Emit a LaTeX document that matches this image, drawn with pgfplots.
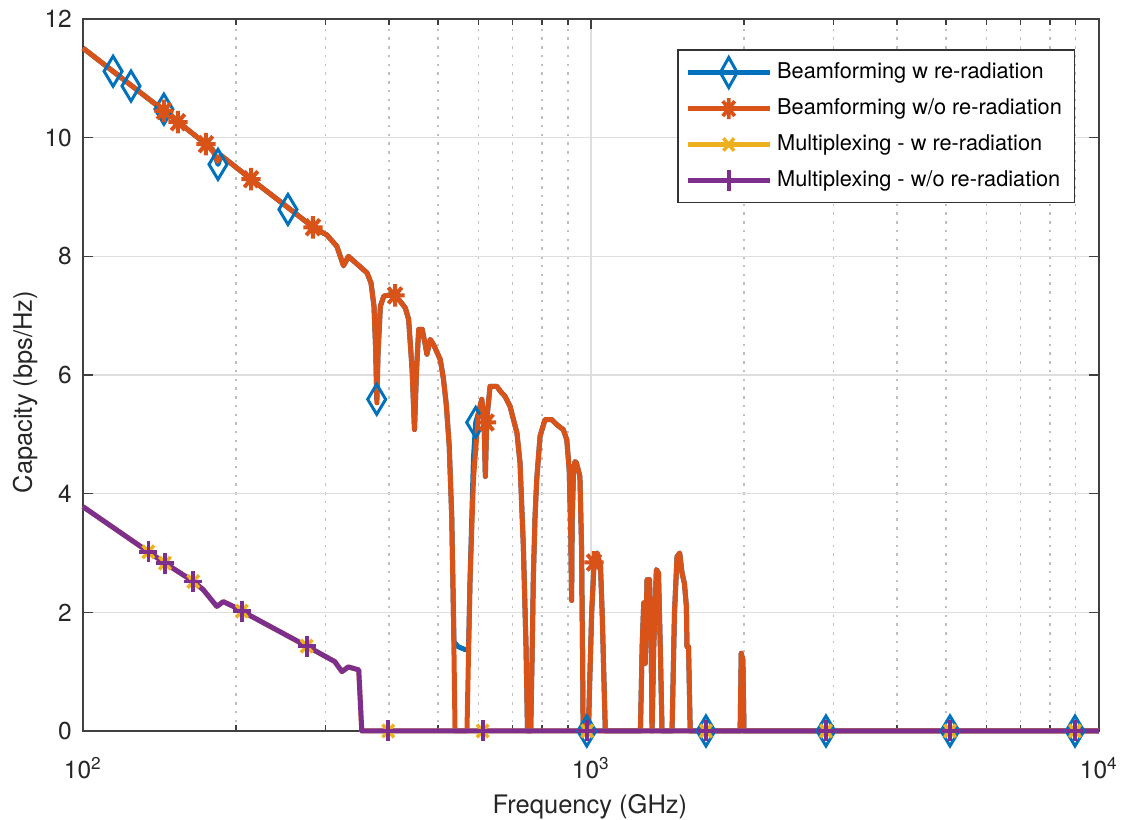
\documentclass[border=0pt]{standalone}
\usepackage{pgfplots}
\pgfplotsset{compat=1.18}
\usepackage{pgfplotstable}
\usepackage{fontspec}
\setmainfont{TeX Gyre Heros}
\definecolor{mblue}{rgb}{0,0.447,0.741}
\definecolor{morange}{rgb}{0.85,0.325,0.098}
\definecolor{myellow}{rgb}{0.929,0.694,0.125}
\definecolor{mpurple}{rgb}{0.494,0.184,0.556}
\pgfdeclareplotmark{mstar}{%
 \pgfpathmoveto{\pgfqpoint{-\pgfplotmarksize}{0pt}}\pgfpathlineto{\pgfqpoint{\pgfplotmarksize}{0pt}}%
 \pgfpathmoveto{\pgfqpoint{0pt}{-\pgfplotmarksize}}\pgfpathlineto{\pgfqpoint{0pt}{\pgfplotmarksize}}%
 \pgfpathmoveto{\pgfqpoint{-0.707\pgfplotmarksize}{-0.707\pgfplotmarksize}}\pgfpathlineto{\pgfqpoint{0.707\pgfplotmarksize}{0.707\pgfplotmarksize}}%
 \pgfpathmoveto{\pgfqpoint{-0.707\pgfplotmarksize}{0.707\pgfplotmarksize}}\pgfpathlineto{\pgfqpoint{0.707\pgfplotmarksize}{-0.707\pgfplotmarksize}}%
 \pgfusepathqstroke}

\pgfplotstableread{
f y
100 11.51
144.5 10.45
174.7 9.89
180 9.80
184 9.60
187 9.70
214.3 9.30
253.4 8.82
283.8 8.49
302 8.36
316 8.17
325.7 7.84
333 8.00
362.5 7.72
369 7.55
374 7.16
377 6.4
379 5.53
381 6.4
385 7.16
391 7.33
408.8 7.36
420.5 7.25
431 7.13
437.5 6.94
444.5 6.09
449.3 5.08
453.5 6.09
458 6.77
465.3 6.77
472.3 6.49
475.3 6.35
482.5 6.60
490 6.51
505 6.26
512 5.95
519 5.50
526 4.80
532 3.60
536 2.00
540 0
570 0
574 1.30
578 2.55
587 4.24
600.5 5.36
609.5 5.59
615.8 5.25
619.5 4.29
623.5 5.25
633 5.81
652.5 5.81
662.5 5.73
677.5 5.64
693 5.47
715 5.02
725 4.52
736 3.11
745 1.42
750 0
761 0
766 1.30
770 2.55
776 3.60
782 4.24
794 4.97
812 5.25
837 5.25
850 5.19
863 5.14
882 5.08
896 4.91
906 4.40
912 3.40
916 2.20
918 3.50
924 4.40
930 4.54
936 4.52
951 4.29
958 3.11
962 1.50
965 0
988 0
1003 1.99
1015 2.89
1028 3.00
1044 2.77
1052 1.99
1067 0
1251 0
1261 1.42
1270 2.16
1279 1.14
1289 2.55
1304 2.55
1314 1.42
1319 0
1329 1.42
1345 2.72
1358 2.66
1369 1.42
1380 0
1444 0
1460 1.99
1477 2.94
1495 3.00
1511 2.66
1527 2.49
1541 2.10
1545 1.42
1556 1.42
1568 0
1966 0
1976 1.31
1991 1.20
2001 0
10000 0
}\orangeline

\pgfplotstableread{
f y
100 11.51
144.5 10.45
174.7 9.89
180 9.80
184.4 9.55
187 9.70
214.3 9.30
253.4 8.82
283.8 8.49
302 8.36
316 8.17
325.7 7.84
333 8.00
362.5 7.72
369 7.55
374 7.16
377 6.4
378.6 5.59
381 6.4
385 7.16
391 7.33
408.8 7.36
420.5 7.25
431 7.13
437.5 6.94
444.5 6.09
449.3 5.08
453.5 6.09
458 6.77
465.3 6.77
472.3 6.49
475.3 6.35
482.5 6.60
490 6.51
505 6.26
512 5.95
519 5.50
526 4.80
532 3.60
536 2.00
537.5 1.50
548 1.42
566 1.37
574 1.37
578 2.55
587 4.60
593 5.20
600.5 5.36
609.5 5.59
615.8 5.25
619.5 4.29
623.5 5.25
633 5.81
652.5 5.81
662.5 5.73
677.5 5.64
693 5.47
715 5.02
725 4.52
736 3.11
745 1.42
750 0
761 0
766 1.30
770 2.55
776 3.60
782 4.24
794 4.97
812 5.25
837 5.25
850 5.19
863 5.14
882 5.08
896 4.91
906 4.40
912 3.40
916 2.20
918 3.50
924 4.40
930 4.54
936 4.52
951 4.29
958 3.11
962 1.50
965 0
988 0
1003 1.99
1015 2.89
1028 3.00
1044 2.77
1052 1.99
1067 0
1251 0
1261 1.42
1270 2.16
1279 1.14
1289 2.55
1304 2.55
1314 1.42
1319 0
1329 1.42
1345 2.72
1358 2.66
1369 1.42
1380 0
1444 0
1460 1.99
1477 2.94
1495 3.00
1511 2.66
1527 2.49
1541 2.10
1545 1.42
1556 1.42
1568 0
1966 0
1976 1.31
1991 1.20
2001 0
10000 0
}\blueline

\pgfplotstableread{
f y
100 3.78
134.5 3.02
145 2.83
164.9 2.52
172.5 2.38
183.4 2.10
188.9 2.18
197.6 2.10
205.4 2.02
275.7 1.43
313 1.17
323.5 1.00
332.8 1.08
349 1.03
353.8 0
10000 0
}\muxline

\pgfplotstableread{
f y
114.6 11.12
124.3 10.87
144.3 10.48
184.4 9.55
253.2 8.79
378.6 5.59
593 5.20
981 0
1684 0
2901 0
5090 0
8970 0
}\bluemarks

\pgfplotstableread{
f y
144.3 10.45
153.8 10.26
174.6 9.89
214.2 9.30
283.6 8.49
411.4 7.34
623 5.20
1013.7 2.84
}\orangemarks

\pgfplotstableread{
f y
134.5 3.02
145 2.83
164.9 2.52
205.4 2.02
275.7 1.43
399 0
612 0
983 0
1684 0
2901 0
5090 0
8970 0
}\muxmarks

\begin{document}
\begin{tikzpicture}
\begin{axis}[
 scale only axis, width=406.4pt, height=284.8pt,
 xmode=log, xmin=100, xmax=10000, ymin=0, ymax=12,
 xtick={100,1000,10000},
 xticklabels={10\textsuperscript{2},10\textsuperscript{3},10\textsuperscript{4}},
 minor xtick={200,300,400,500,600,700,800,900,2000,3000,4000,5000,6000,7000,8000,9000},
 ytick={0,2,4,6,8,10,12},
 /pgf/number format/assume math mode=true,
 clip=false,
 axis line style={black!75, line width=0.6pt},
 tick style={black!75, line width=0.6pt},
 major tick length=4pt, minor tick length=2.5pt,
 tick align=inside,
 xmajorgrids, ymajorgrids, xminorgrids,
 major grid style={black!13, line width=0.6pt},
 minor grid style={black!25, line width=0.6pt, dash pattern=on 1pt off 2.5pt},
 ticklabel style={font=\fontsize{9.8}{11}\selectfont, text=black!85},
 xticklabel style={inner sep=1pt, yshift=-9.3pt},
 yticklabel style={inner sep=1pt, xshift=-3.3pt},
 xlabel={Frequency (GHz)},
 ylabel={Capacity (bps/Hz)},
 label style={font=\fontsize{10.2}{12}\selectfont, text=black!85},
 xlabel style={inner sep=0pt, at={(axis description cs:0.499,-0.0885)}, anchor=north},
 ylabel style={inner sep=0pt, at={(axis description cs:-0.057,0.476)}, anchor=center, rotate=0},
 legend image code/.code={\draw[mark repeat=2,mark phase=2,#1] plot coordinates {(0cm,0cm) (0.575cm,0cm) (1.15cm,0cm)};},
 legend cell align=left,
 legend style={at={(0.9765,0.9575)}, anchor=north east, draw=black!80, line width=0.6pt,
   font=\fontsize{8.7}{10}\selectfont, row sep=2.5pt, inner xsep=3pt, inner ysep=3pt},
]
\path (axis description cs:-0.0817,-0.1236) rectangle (axis description cs:1.0217,1.0267);

\addlegendimage{mblue, line width=2pt, mark=diamond, mark size=6pt, mark options={solid, line width=1.2pt, xscale=0.75}}
\addlegendentry{Beamforming w re-radiation}
\addlegendimage{morange, line width=2pt, mark=mstar, mark size=4.2pt, mark options={solid, line width=1.5pt, xscale=0.8}}
\addlegendentry{Beamforming w/o re-radiation}
\addlegendimage{myellow, line width=2pt, mark=x, mark size=3.5pt, mark options={solid, line width=1.4pt, xscale=0.85}}
\addlegendentry{Multiplexing - w re-radiation}
\addlegendimage{mpurple, line width=2pt, mark=+, mark size=4.2pt, mark options={solid, line width=1.5pt, xscale=0.85}}
\addlegendentry{Multiplexing - w/o re-radiation}

\addplot[forget plot, mblue, line width=2pt, line join=round, no marks] table[x=f,y=y] {\blueline};
\addplot[forget plot, only marks, mblue, mark=diamond, mark size=6pt, mark options={line width=1.2pt, xscale=0.8}] table[x=f,y=y] {\bluemarks};
\addplot[forget plot, morange, line width=2pt, line join=round, no marks] table[x=f,y=y] {\orangeline};
\addplot[forget plot, only marks, morange, mark=mstar, mark size=4.5pt, mark options={line width=1.6pt, xscale=0.85}] table[x=f,y=y] {\orangemarks};
\addplot[forget plot, myellow, line width=2pt, line join=round, no marks] table[x=f,y=y] {\muxline};
\addplot[forget plot, only marks, myellow, mark=x, mark size=3.6pt, mark options={line width=1.4pt, xscale=0.9}] table[x=f,y=y] {\muxmarks};
\addplot[forget plot, mpurple, line width=2pt, line join=round, no marks] table[x=f,y=y] {\muxline};
\addplot[forget plot, only marks, mpurple, mark=+, mark size=4.2pt, mark options={line width=1.5pt, xscale=0.85}] table[x=f,y=y] {\muxmarks};
\end{axis}
\end{tikzpicture}
\end{document}
